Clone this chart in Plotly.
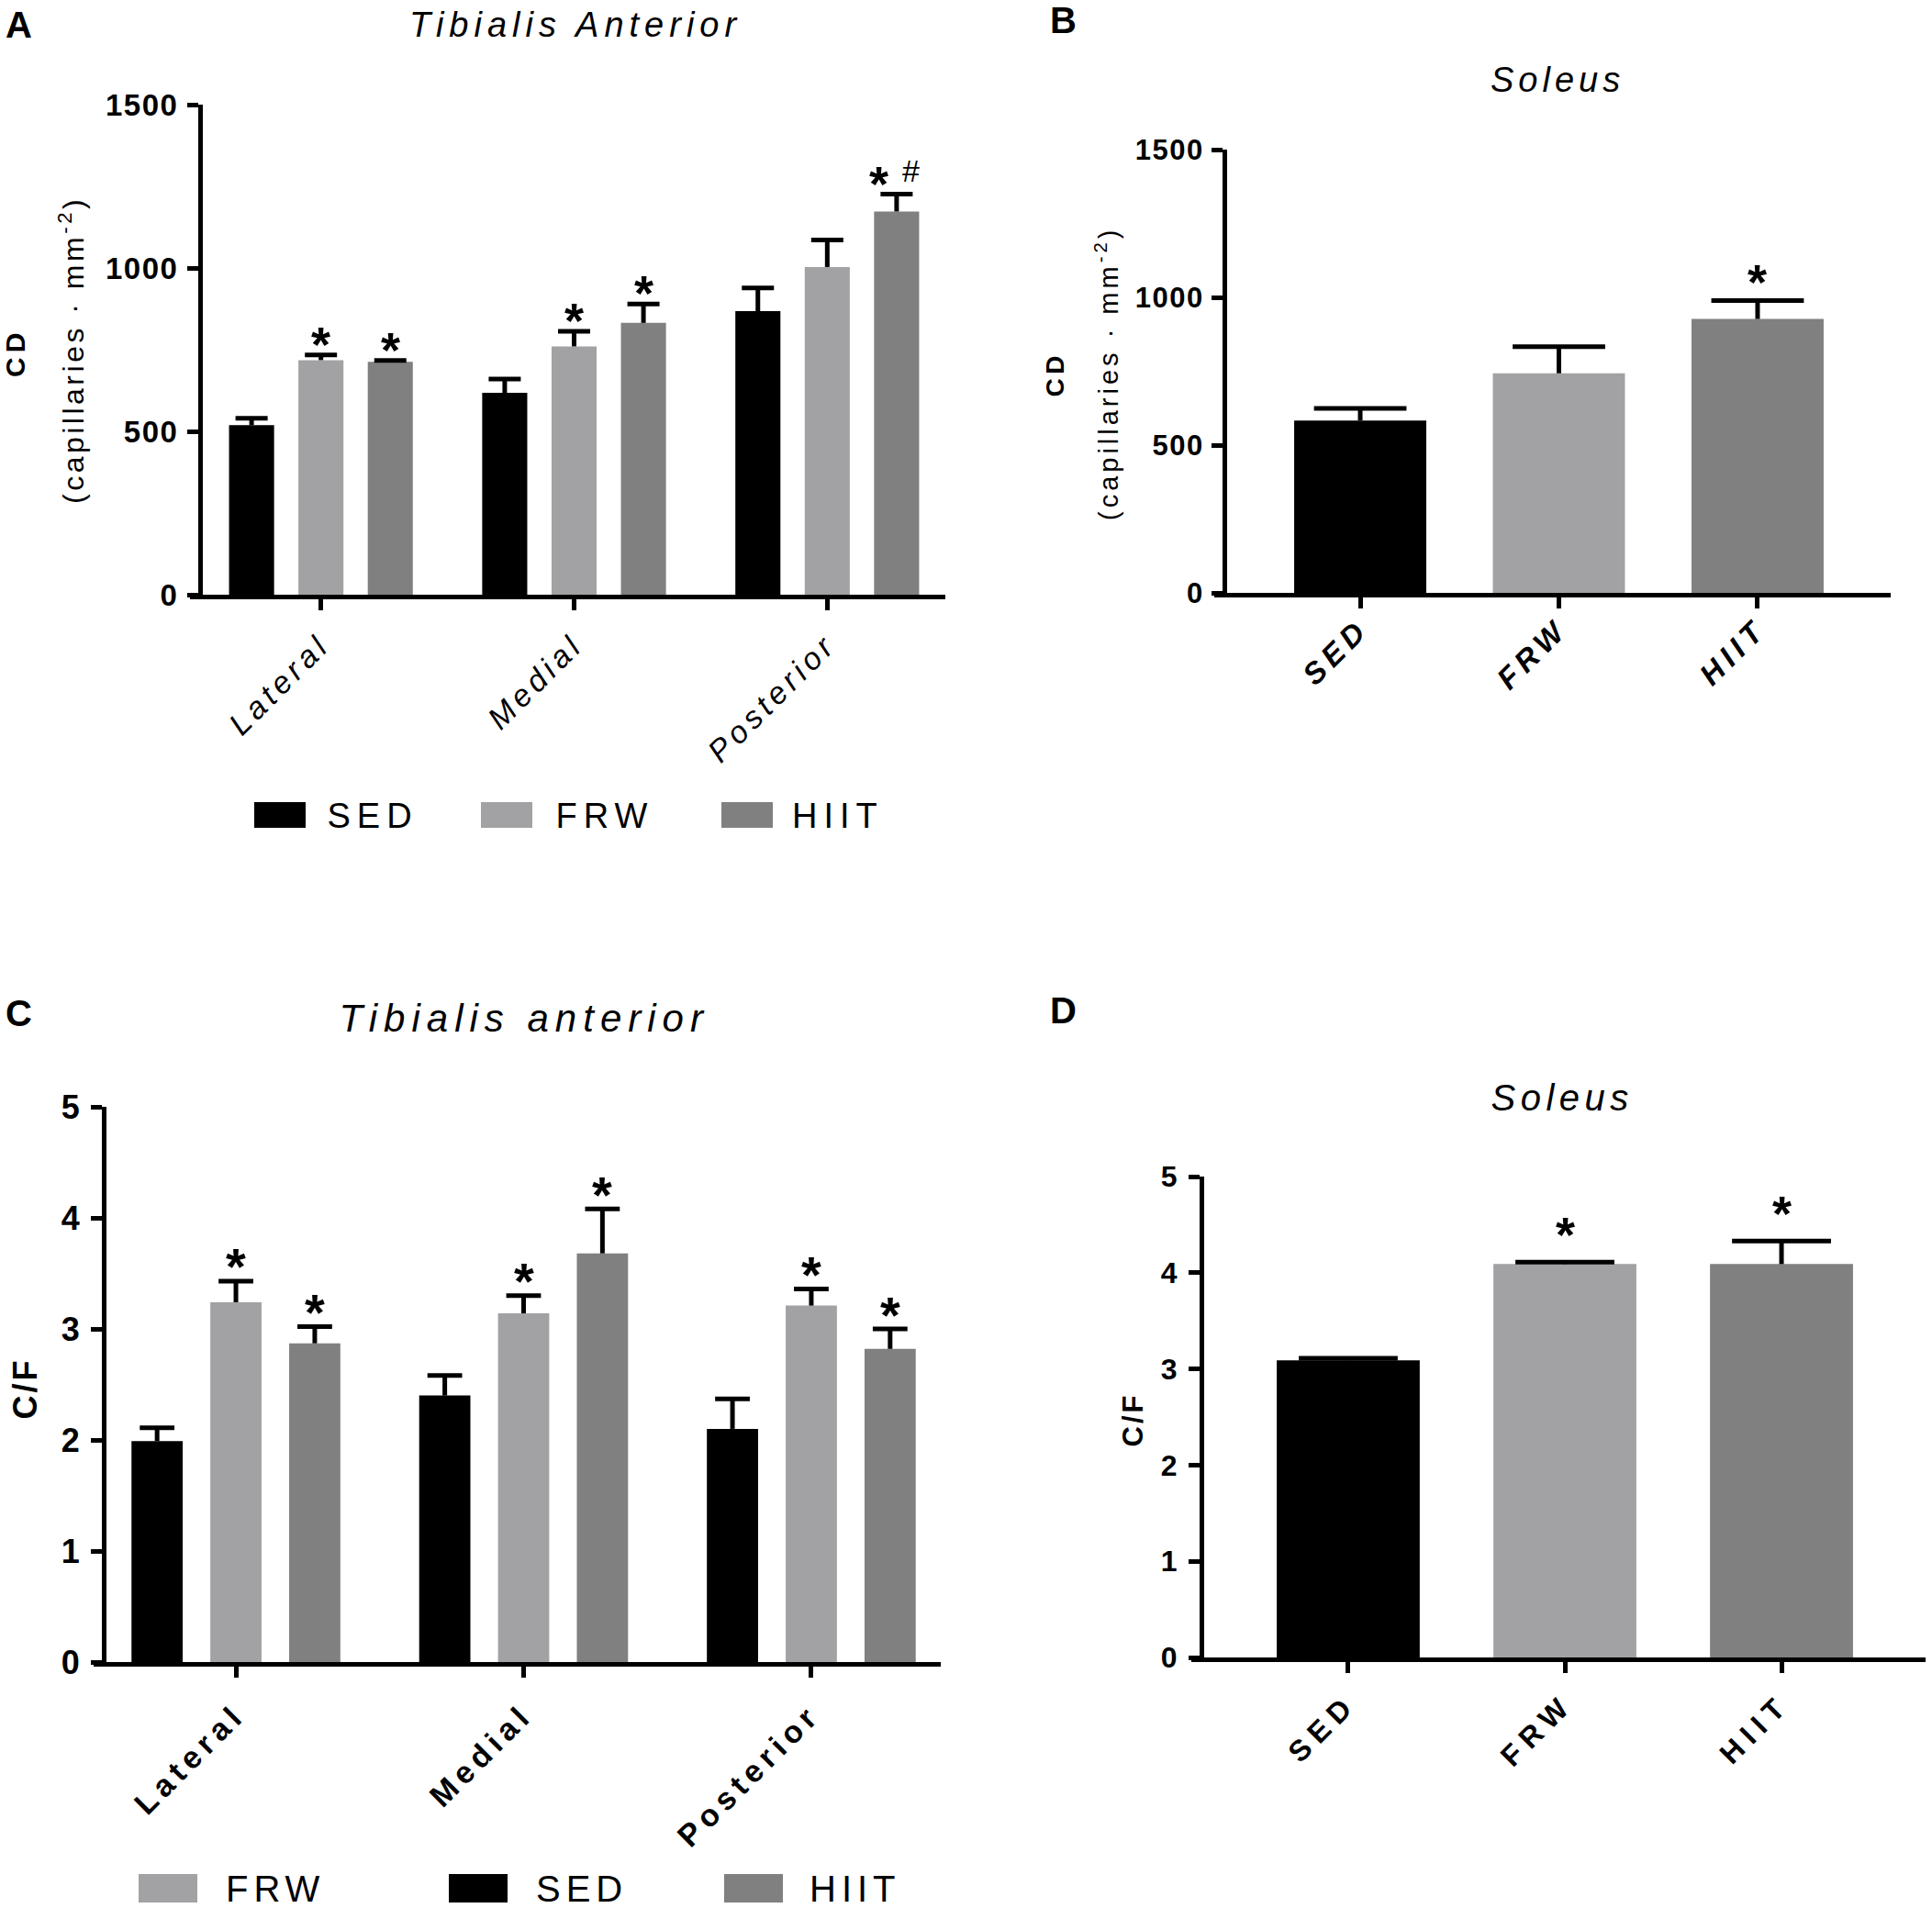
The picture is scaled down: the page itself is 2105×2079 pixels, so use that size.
import json
import plotly.graph_objects as go

W, H = 2105, 2079

groups = ["SED", "FRW", "HIIT"]
regions = ["Lateral", "Medial", "Posterior"]
bar_colors = ["#000000", "#a2a2a5", "#808080"]

# A - capillary density, tibialis anterior (mean, SEM) per region
cd_ta_sed = [519, 618, 868]
cd_ta_frw = [718, 760, 1003]
cd_ta_hiit = [713, 832, 1173]
cd_ta_sed_se = [21, 42, 71]
cd_ta_frw_se = [16, 46, 83]
cd_ta_hiit_se = [4, 58, 53]

# B - capillary density, soleus
cd_sol = [583, 743, 927]
cd_sol_se = [41, 90, 62]

# C - capillary to fibre ratio, tibialis anterior
cf_ta_sed = [1.99, 2.40, 2.10]
cf_ta_frw = [3.24, 3.14, 3.21]
cf_ta_hiit = [2.87, 3.68, 2.82]
cf_ta_sed_se = [0.12, 0.18, 0.27]
cf_ta_frw_se = [0.19, 0.16, 0.15]
cf_ta_hiit_se = [0.15, 0.40, 0.18]

# D - capillary to fibre ratio, soleus
cf_sol = [3.09, 4.09, 4.09]
cf_sol_se = [0.02, 0.02, 0.24]

# significance marks (group index, region index)
star_a = [(1, 0), (2, 0), (1, 1), (2, 1), (2, 2)]
hash_a = [(2, 2)]
star_b = [2]
star_c = [(1, 0), (2, 0), (1, 1), (2, 1), (1, 2), (2, 2)]
star_d = [1, 2]

NARROW = "Liberation Sans Narrow, Arial Narrow, Liberation Sans, Arial, sans-serif"
SANS = "Liberation Sans, Arial, sans-serif"

offs = [-0.274, 0.0, 0.274]
GW = 0.178

fig = go.Figure()
anns = []
shapes = []
spacing = []   # (css selector, letter spacing px)


def text(s, x, y, size, family=SANS, weight="normal", style="normal", ls=0,
         angle=0, xanchor="center", yanchor="middle", xref="paper", yref="paper",
         xshift=0, yshift=0):
    if xref == "paper":
        x = x / W
    if yref == "paper":
        y = 1 - y / H
    idx = len(anns)
    anns.append(dict(text=s, x=x, y=y, xref=xref, yref=yref, showarrow=False,
                     textangle=angle, xanchor=xanchor, yanchor=yanchor,
                     xshift=xshift, yshift=yshift,
                     font=dict(family=family, size=size, color="black",
                               weight=weight, style=style)))
    if ls:
        spacing.append(('g.annotation[data-index="%d"] text' % idx, ls))


def err(x, vals, se, xa, ya, cap):
    tops = [v + e for v, e in zip(vals, se)]
    fig.add_trace(go.Scatter(
        x=x, y=tops, mode="markers", xaxis=xa, yaxis=ya, showlegend=False,
        hoverinfo="skip",
        marker=dict(symbol="line-ew", size=cap, color="black",
                    line=dict(width=5, color="black")),
        error_y=dict(type="data", symmetric=False, array=[0] * len(vals),
                     arrayminus=se, width=0, thickness=5, color="black")))
    return tops


def axes(n, xpx, ypx, xr, yr, yticks, xtext, xfont, yfont, xstand, ystand):
    s = "" if n == 1 else str(n)
    fig.layout["xaxis" + s] = dict(
        domain=[(xpx[0] + 2) / W, xpx[1] / W], range=xr, anchor="y" + s,
        tickmode="array", tickvals=list(range(len(xtext))), ticktext=xtext,
        tickangle=-45, ticks="outside", ticklen=12, tickwidth=5, tickcolor="black",
        showline=True, linewidth=5, linecolor="black", showgrid=False,
        zeroline=False, tickfont=xfont, ticklabelstandoff=xstand, fixedrange=True,
        automargin=False)
    fig.layout["yaxis" + s] = dict(
        domain=[1 - (ypx[1] - 2) / H, 1 - ypx[0] / H], range=yr, anchor="x" + s,
        tickmode="array", tickvals=yticks, ticks="outside", ticklen=12,
        tickwidth=5, tickcolor="black", showline=True, linewidth=5,
        linecolor="black", showgrid=False, zeroline=False, tickfont=yfont,
        ticklabelstandoff=ystand, fixedrange=True, automargin=False)
    # x axis runs out to the end of the y ticks, as in the original
    shapes.append(dict(type="line", xref="paper", yref="paper",
                       x0=(xpx[0] - 12) / W, x1=(xpx[0] + 2) / W,
                       y0=1 - (ypx[1] + 0.5) / H, y1=1 - (ypx[1] + 0.5) / H,
                       line=dict(color="black", width=5)))


# ---------------- A ----------------
a_vals = [cd_ta_sed, cd_ta_frw, cd_ta_hiit]
a_se = [cd_ta_sed_se, cd_ta_frw_se, cd_ta_hiit_se]
a_tops = []
for k in range(3):
    xk = [i + offs[k] for i in range(3)]
    fig.add_trace(go.Bar(x=xk, y=a_vals[k], width=GW, marker_color=bar_colors[k],
                         marker_line_width=0, xaxis="x", yaxis="y", showlegend=False))
for k in range(3):
    xk = [i + offs[k] for i in range(3)]
    a_tops.append(err(xk, a_vals[k], a_se[k], "x", "y", 25))
axes(1, (219, 1030), (114, 650), [-0.4665, 2.4665], [0, 1500], [0, 500, 1000, 1500],
     regions, dict(family=NARROW, size=34, style="italic"),
     dict(family=NARROW, size=33, weight="bold"), 4, 3)
spacing += [(".xtick text", 5), (".ytick text", 1.5)]
for k, i in star_a:
    shift = -19 if (k, i) in hash_a else 0
    text("*", i + offs[k], a_tops[k][i], 54, weight="bold", xref="x", yref="y",
         xshift=shift, yshift=12)
for k, i in hash_a:
    text("#", i + offs[k], a_tops[k][i], 34, xref="x", yref="y", xshift=16, yshift=26)

# ---------------- B ----------------
fig.add_trace(go.Bar(x=[0, 1, 2], y=cd_sol, width=0.665, marker_color=bar_colors,
                     marker_line_width=0, xaxis="x2", yaxis="y2", showlegend=False))
b_tops = err([0, 1, 2], cd_sol, cd_sol_se, "x2", "y2", 72)
axes(2, (1335, 2060), (163, 648), [-0.67, 2.67], [0, 1500], [0, 500, 1000, 1500],
     groups, dict(family=NARROW, size=33, style="italic", weight="bold"),
     dict(family=NARROW, size=31, weight="bold"), -10, 2)
spacing += [(".x2tick text", 6), (".y2tick text", 1.5)]
for i in star_b:
    text("*", i, b_tops[i], 54, weight="bold", xref="x2", yref="y2", yshift=21)

# ---------------- C ----------------
c_vals = [cf_ta_sed, cf_ta_frw, cf_ta_hiit]
c_se = [cf_ta_sed_se, cf_ta_frw_se, cf_ta_hiit_se]
c_tops = []
for k in range(3):
    xk = [i + offs[k] for i in range(3)]
    fig.add_trace(go.Bar(x=xk, y=c_vals[k], width=GW, marker_color=bar_colors[k],
                         marker_line_width=0, xaxis="x3", yaxis="y3", showlegend=False))
for k in range(3):
    xk = [i + offs[k] for i in range(3)]
    c_tops.append(err(xk, c_vals[k], c_se[k], "x3", "y3", 27))
axes(3, (114, 1025), (1206, 1813), [-0.45, 2.45], [0, 5], [0, 1, 2, 3, 4, 5],
     regions, dict(family=SANS, size=34, weight="bold"),
     dict(family=SANS, size=36, weight="bold"), 7, 5)
spacing += [(".x3tick text", 6)]
for k, i in star_c:
    text("*", i + offs[k], c_tops[k][i], 56, weight="bold", xref="x3", yref="y3",
         yshift=16)

# ---------------- D ----------------
fig.add_trace(go.Bar(x=[0, 1, 2], y=cf_sol, width=0.66, marker_color=bar_colors,
                     marker_line_width=0, xaxis="x4", yaxis="y4", showlegend=False))
d_tops = err([0, 1, 2], cf_sol, cf_sol_se, "x4", "y4", 77)
axes(4, (1310, 2098), (1282, 1808), [-0.665, 2.665], [0, 5], [0, 1, 2, 3, 4, 5],
     groups, dict(family=SANS, size=32, weight="bold"),
     dict(family=SANS, size=32, weight="bold"), 2, 6)
spacing += [(".x4tick text", 8)]
for i in star_d:
    text("*", i, d_tops[i], 54, weight="bold", xref="x4", yref="y4", yshift=30)

# ---------------- labels and titles ----------------
for lab, x, y in [("A", 20, 27), ("B", 1158, 22), ("C", 20, 1104), ("D", 1158, 1101)]:
    text(lab, x, y, 40, weight="bold")

text("Tibialis Anterior", 628, 27, 38, style="italic", ls=6)
text("Soleus", 1697, 87, 38, style="italic", ls=5)
text("Tibialis anterior", 572, 1109, 42, style="italic", ls=7)
text("Soleus", 1702, 1196, 40, style="italic", ls=5.5)

text("CD", 17, 385, 30, weight="bold", angle=-90, ls=5)
text("(capillaries · mm<sup>-2</sup>)", 78, 382, 32, angle=-90, ls=3.5)
text("CD", 1150, 408, 28, weight="bold", angle=-90, ls=4.5)
text("(capillaries · mm<sup>-2</sup>)", 1206, 407, 29, angle=-90, ls=4)
text("C/F", 27, 1513, 36, weight="bold", angle=-90, ls=3)
text("C/F", 1234, 1547, 31, weight="bold", angle=-90, ls=3)

# ---------------- legends (drawn by hand to get the wide swatches) ----------------
leg_a = [("SED", 0, 277, 365), ("FRW", 1, 524, 614), ("HIIT", 2, 786, 875)]
for name, k, x0, tx in leg_a:
    shapes.append(dict(type="rect", xref="paper", yref="paper", x0=x0 / W,
                       x1=(x0 + 56) / W, y0=1 - 902 / H, y1=1 - 874 / H,
                       fillcolor=bar_colors[k], line=dict(width=0)))
    text(name, tx, 889, 38, family=NARROW, xanchor="left", ls=7)

leg_c = [("FRW", 1, 151, 253), ("SED", 0, 489, 591), ("HIIT", 2, 789, 892)]
for name, k, x0, tx in leg_c:
    shapes.append(dict(type="rect", xref="paper", yref="paper", x0=x0 / W,
                       x1=(x0 + 64) / W, y0=1 - 2073 / H, y1=1 - 2042 / H,
                       fillcolor=bar_colors[k], line=dict(width=0)))
    text(name, tx, 2058, 40, xanchor="left", ls=6)

fig.update_layout(width=W, height=H, margin=dict(l=0, r=0, t=0, b=0),
                  paper_bgcolor="white", plot_bgcolor="white", barmode="overlay",
                  showlegend=False, font=dict(family=SANS, color="black"),
                  annotations=anns, shapes=shapes)

# page margin off so the figure sits at the window corner; letter spacing as in the original
js = ("document.body.style.margin='0';document.documentElement.style.overflow='hidden';"
      "var gd=document.getElementById('{plot_id}');var R=" + json.dumps(spacing) + ";"
      "function ap(){R.forEach(function(r){gd.querySelectorAll(r[0]).forEach("
      "function(e){e.style.letterSpacing=r[1]+'px';});});}"
      "ap();gd.on('plotly_afterplot',ap);")

fig.write_html("out.html", post_script=js, config={"displayModeBar": False})
